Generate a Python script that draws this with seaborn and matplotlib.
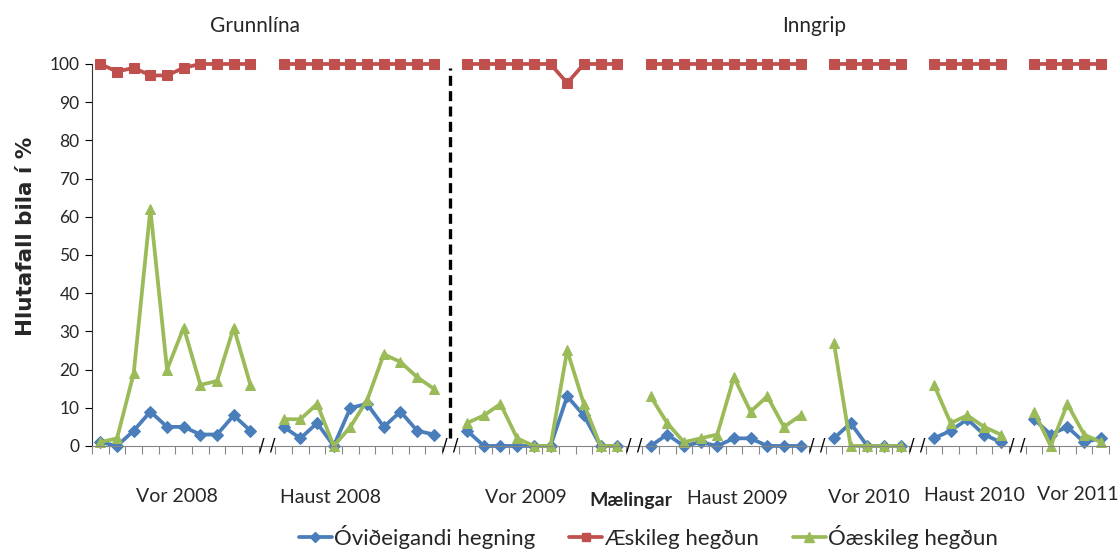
import numpy as np
import pandas as pd
import matplotlib
matplotlib.use("Agg")
import matplotlib.pyplot as plt
from matplotlib.lines import Line2D
import seaborn as sns

sns.set_style("white")
plt.rcParams['font.family'] = ['Lato', 'DejaVu Sans']

# timabil (segments) - a blank category sits between each of them
segments = ["Vor 2008", "Haust 2008", "Vor 2009", "Haust 2009", "Vor 2010", "Haust 2010", "Vor 2011"]

ovideigandi = [
    [1, 0, 4, 9, 5, 5, 3, 3, 8, 4],
    [5, 2, 6, 0, 10, 11, 5, 9, 4, 3],
    [4, 0, 0, 0, 0, 0, 13, 8, 0, 0],
    [0, 3, 0, 1, 0, 2, 2, 0, 0, 0],
    [2, 6, 0, 0, 0],
    [2, 4, 7, 3, 1],
    [7, 3, 5, 1, 2],
]
aeskileg = [
    [100, 98, 99, 97, 97, 99, 100, 100, 100, 100],
    [100, 100, 100, 100, 100, 100, 100, 100, 100, 100],
    [100, 100, 100, 100, 100, 100, 95, 100, 100, 100],
    [100, 100, 100, 100, 100, 100, 100, 100, 100, 100],
    [100, 100, 100, 100, 100],
    [100, 100, 100, 100, 100],
    [100, 100, 100, 100, 100],
]
oaeskileg = [
    [1, 2, 19, 62, 20, 31, 16, 17, 31, 16],
    [7, 7, 11, 0, 5, 12, 24, 22, 18, 15],
    [6, 8, 11, 2, 0, 0, 25, 11, 0, 0],
    [13, 6, 1, 2, 3, 18, 9, 13, 5, 8],
    [27, 0, 0, 0, 0],
    [16, 6, 8, 5, 3],
    [9, 0, 11, 3, 1],
]

series = {
    "Óviðeigandi hegning": (ovideigandi, "#4A7EBB", "D", 6),
    "Æskileg hegðun": (aeskileg, "#C0504D", "s", 6.5),
    "Óæskileg hegðun": (oaeskileg, "#9BBB59", "^", 7.5),
}

# build long table, position = category index on the axis
rows = []
for name, (vals, c, m, ms) in series.items():
    pos = 0
    for seg, seg_vals in zip(segments, vals):
        for v in seg_vals:
            rows.append({"pos": pos, "value": v, "series": name, "segment": seg})
            pos += 1
        pos += 1
df = pd.DataFrame(rows)
n_cat = df["pos"].max() + 1

# blank category indices
breaks = []
pos = 0
for seg_vals in ovideigandi[:-1]:
    pos += len(seg_vals)
    breaks.append(pos)
    pos += 1

fig = plt.figure(figsize=(11.18, 5.54), dpi=100)
ax = fig.add_axes([0.0823, 0.195, 0.9097, 0.6895])

order = ["Æskileg hegðun", "Óviðeigandi hegning", "Óæskileg hegðun"]
for name in order:
    vals, c, m, ms = series[name]
    sns.lineplot(data=df[df["series"] == name], x="pos", y="value", units="segment",
                 estimator=None, color=c, marker=m, markersize=ms, markeredgecolor=c,
                 linewidth=2.7, ax=ax, clip_on=False, legend=False)

ax.set_xlim(-0.5, n_cat - 0.5)
ax.set_ylim(0, 100)
ax.set_yticks(np.arange(0, 101, 10))
ax.set_xticks(np.arange(-0.5, n_cat, 1))
ax.set_xticklabels([])
ax.tick_params(axis="y", direction="out", length=5, color="black", labelsize=12.5, left=True, pad=4)
ax.tick_params(axis="x", direction="out", length=6, color="#868686", bottom=True)
ax.set_xlabel("")
ax.set_ylabel("Hlutafall bila í %", fontsize=15.5, fontweight="bold",
              family=["DejaVu Sans"], labelpad=14)
ax.yaxis.set_label_coords(-0.055, 0.55)
for s in ["top", "right"]:
    ax.spines[s].set_visible(False)
ax.spines["left"].set_color("#333333")
ax.spines["bottom"].set_color("#868686")

# break marks on x axis
for b in breaks:
    ax.text(b, 0, "/ /", ha="center", va="center", fontsize=12, color="black",
            family=["DejaVu Sans"], clip_on=False)

# dashed line between baseline and intervention
ax.plot([21, 21], [2, 99], ls=(0, (3, 1.6)), color="black", lw=2.4, clip_on=False)

# category labels
label_x = [4.6, 13.8, 25.5, 38.2, 46.1, 52.4, 58.6]
label_y = [-13.2, -13.6, -13.4, -13.8, -13.4, -12.9, -12.6]
for t, x, y in zip(segments, label_x, label_y):
    ax.text(x, y, t, ha="center", va="center", fontsize=14)
ax.text(31.8, -14.2, "Mælingar", ha="center", va="center", fontsize=14, fontweight="bold")

ax.text(9.3, 110, "Grunnlína", ha="center", va="center", fontsize=15)
ax.text(42.8, 110, "Inngrip", ha="center", va="center", fontsize=15)

handles = [Line2D([], [], color=series[n][1], marker=series[n][2], markersize=series[n][3] - 1,
                  lw=2.7) for n in series]
fig.legend(handles, list(series.keys()), loc="lower center", ncol=3, frameon=False,
           bbox_to_anchor=(0.58, -0.027), fontsize=16, handlelength=1.5, handletextpad=0.1,
           columnspacing=1.5)

fig.savefig("out.png", dpi=100)
